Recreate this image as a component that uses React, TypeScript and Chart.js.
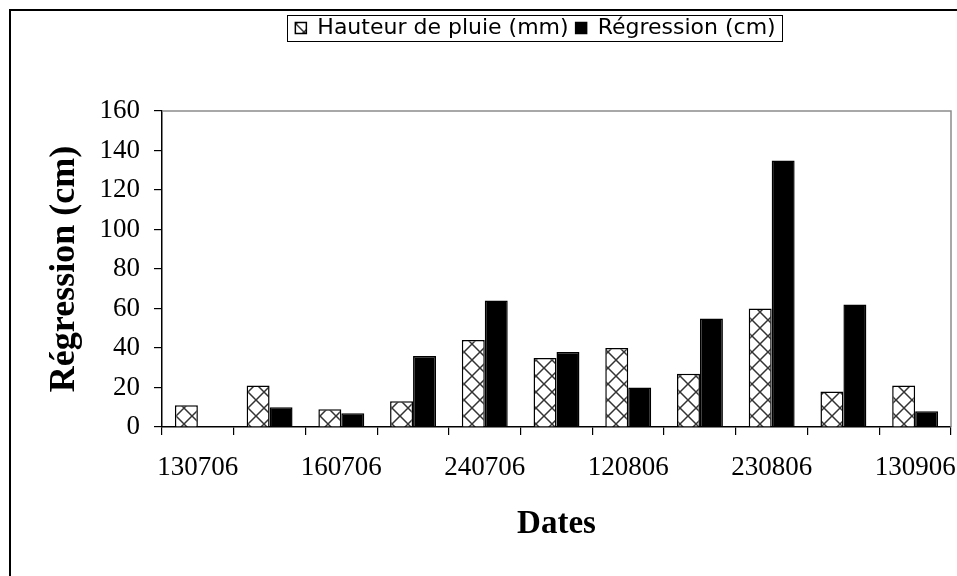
import React, { useEffect, useRef } from 'react';
import { Chart, registerables } from 'chart.js';

Chart.register(...registerables);

// ---- data ----
const categories: string[] = ['130706', '', '160706', '', '240706', '', '120806', '', '230806', '', '130906'];
const rainfall: number[] = [11, 21, 9, 13, 44, 35, 40, 27, 60, 18, 21];
const regression: (number | null)[] = [null, 10, 7, 36, 64, 38, 20, 55, 135, 62, 8];
const seriesNames: string[] = ['Hauteur de pluie (mm)', 'Régression (cm)'];
const yMin = 0;
const yMax = 160;
const yStep = 20;
const yTitle = 'Régression (cm)';
const xTitle = 'Dates';

// ---- layout / style ----
const W = 957;
const H = 576;
const AREA = { left: 162, right: 951, top: 111, bottom: 427 };
const LEGEND_CX = 535.5;
const LEGEND_CY = 28;
const LEGEND_FONT = 22;
const LEGEND_PAD = 7;
const SERIF = '"Liberation Serif", "Times New Roman", serif';
const SANS = '"DejaVu Sans", Verdana, sans-serif';

function makeHatch(): CanvasPattern | string {
  const c = document.createElement('canvas');
  const s = 16;
  c.width = s;
  c.height = s;
  const g = c.getContext('2d');
  if (!g) return '#ccc';
  g.fillStyle = '#ffffff';
  g.fillRect(0, 0, s, s);
  g.strokeStyle = '#333333';
  g.lineWidth = 1.5;
  g.beginPath();
  g.moveTo(0, 0);
  g.lineTo(s, s);
  g.moveTo(s, 0);
  g.lineTo(0, s);
  g.stroke();
  return g.createPattern(c, 'repeat') || '#ccc';
}

const framePlugin = {
  id: 'frame',
  afterLayout(chart: any) {
    const lg = chart.legend;
    if (!lg) return;
    const pad = lg.options.labels.padding;
    const dx = LEGEND_CX - (lg.left + lg.right) / 2;
    const dy = LEGEND_CY - LEGEND_FONT / 2 - pad - lg.top;
    lg.left += dx;
    lg.right += dx;
    lg.top += dy;
    lg.bottom += dy;
  },
  afterDraw(chart: any) {
    const { ctx, chartArea: a } = chart;
    ctx.save();
    ctx.strokeStyle = '#8c8c8c';
    ctx.lineWidth = 1.5;
    ctx.beginPath();
    ctx.moveTo(a.left, a.top);
    ctx.lineTo(a.right, a.top);
    ctx.lineTo(a.right, a.bottom);
    ctx.stroke();
    const hb = chart.legend && chart.legend.legendHitBoxes;
    if (hb && hb.length) {
      const l = hb[0].left - 8;
      const last = hb[hb.length - 1];
      const r = last.left + last.width + 7;
      const cy = hb[0].top + hb[0].height / 2;
      ctx.strokeStyle = '#000';
      ctx.lineWidth = 1;
      ctx.strokeRect(Math.round(l) + 0.5, Math.round(cy - 13) + 0.5, Math.round(r - l), 26);
    }
    ctx.restore();
  },
};

export default function App() {
  const ref = useRef<HTMLCanvasElement | null>(null);

  useEffect(() => {
    if (!ref.current) return;
    const hatch = makeHatch();
    const chart = new Chart(ref.current, {
      type: 'bar',
      data: {
        labels: categories,
        datasets: [
          {
            label: seriesNames[0],
            data: rainfall,
            backgroundColor: hatch as any,
            borderColor: '#000',
            borderWidth: 1.5,
            categoryPercentage: 0.64,
            barPercentage: 1,
          },
          {
            label: seriesNames[1],
            data: regression,
            backgroundColor: '#000',
            borderColor: '#000',
            borderWidth: 1.5,
            categoryPercentage: 0.64,
            barPercentage: 1,
          },
        ],
      },
      options: {
        animation: false,
        responsive: false,
        maintainAspectRatio: false,
        layout: { padding: { left: 0, right: W - AREA.right, top: AREA.top - (LEGEND_FONT + LEGEND_PAD + 10), bottom: 0 } },
        plugins: {
          tooltip: { enabled: false },
          legend: {
            position: 'top',
            labels: {
              boxWidth: 11,
              boxHeight: 11,
              padding: LEGEND_PAD,
              color: '#000',
              font: { family: SANS, size: LEGEND_FONT },
            },
          },
        },
        scales: {
          x: {
            offset: true,
            border: { color: '#000', width: 1.5 },
            grid: { offset: true, drawOnChartArea: false, drawTicks: true, tickLength: 8, color: '#000', lineWidth: 1.2 },
            ticks: {
              autoSkip: false,
              maxRotation: 0,
              padding: 17,
              color: '#000',
              font: { family: SERIF, size: 27 },
            },
            title: {
              display: true,
              text: xTitle,
              color: '#000',
              font: { family: SERIF, size: 33, weight: 'bold' },
              padding: { top: 0, bottom: 32 },
            },
            afterFit: (s: any) => {
              s.height = H - AREA.bottom;
              s.paddingLeft = 0;
              s.paddingRight = 0;
            },
          },
          y: {
            min: yMin,
            max: yMax,
            border: { color: '#000', width: 1.5 },
            grid: { drawOnChartArea: false, drawTicks: true, tickLength: 8, color: '#000', lineWidth: 1.2 },
            ticks: {
              stepSize: yStep,
              padding: 14,
              color: '#000',
              font: { family: SERIF, size: 27 },
            },
            title: {
              display: true,
              text: yTitle,
              color: '#000',
              font: { family: SERIF, size: 36, weight: 'bold' },
              padding: { top: 43, bottom: 0 },
            },
            afterFit: (s: any) => {
              s.width = AREA.left;
            },
          },
        },
      },
      plugins: [framePlugin],
    } as any);
    return () => chart.destroy();
  }, []);

  return (
    <div style={{ position: 'fixed', left: 0, top: 0, width: W, height: H, overflow: 'hidden', background: '#fff' }}>
      <div
        style={{
          position: 'absolute',
          left: 9,
          top: 9,
          width: W + 50,
          height: H + 50,
          borderLeft: '2px solid #000',
          borderTop: '2px solid #000',
        }}
      />
      <canvas ref={ref} width={W} height={H} style={{ position: 'absolute', left: 0, top: 0, width: W, height: H }} />
    </div>
  );
}
